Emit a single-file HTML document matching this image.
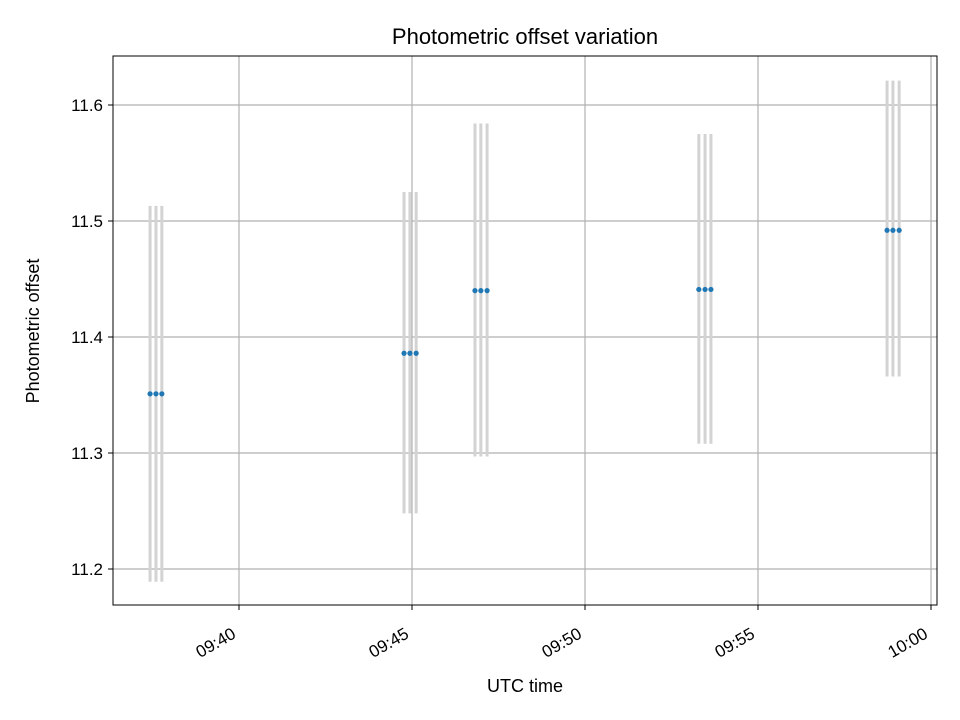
<!DOCTYPE html>
<html><head><meta charset="utf-8"><style>
body{margin:0;background:#fff;}
svg{display:block;font-family:"Liberation Sans","DejaVu Sans",sans-serif;}
</style></head><body>
<svg id="chart" width="960" height="720">
<rect width="960" height="720" fill="#fff"/>
<g id="grid"></g><g id="bars"></g><g id="pts"></g><g id="ticks"></g>
<rect x="113" y="56" width="824" height="549" fill="none" stroke="#000" stroke-width="1"/>
<text x="525" y="44" font-size="22" text-anchor="middle">Photometric offset variation</text>
<text x="525" y="692" font-size="18" text-anchor="middle">UTC time</text>
<text transform="translate(39,331) rotate(-90)" font-size="18" text-anchor="middle">Photometric offset</text>
</svg>
<script>
// minutes after 09:00
const times=[37.43,37.60,37.77,44.77,44.94,45.12,46.82,46.99,47.17,53.29,53.47,53.64,58.73,58.90,59.08];
const values=[11.351,11.351,11.351,11.386,11.386,11.386,11.440,11.440,11.440,11.441,11.441,11.441,11.492,11.492,11.492];
const upper=[11.513,11.513,11.513,11.525,11.525,11.525,11.584,11.584,11.584,11.575,11.575,11.575,11.621,11.621,11.621];
const lower=[11.189,11.189,11.189,11.248,11.248,11.248,11.297,11.297,11.297,11.308,11.308,11.308,11.366,11.366,11.366];
const yTicks=[11.2,11.3,11.4,11.5,11.6];
const xTicks=[40,45,50,55,60];
const xTickLabels=["09:40","09:45","09:50","09:55","10:00"];

const NS="http://www.w3.org/2000/svg";
function X(m){return 239+(m-40)*34.6;}
function Y(v){return 337-(v-11.4)*1160;}
function mk(tag,attrs,parent){const e=document.createElementNS(NS,tag);for(const k in attrs)e.setAttribute(k,attrs[k]);document.getElementById(parent).appendChild(e);return e;}

yTicks.forEach((t,i)=>{
  const y=Y(t);
  const g=mk('line',{x1:113,x2:937,y1:y,y2:y,stroke:'#b0b0b0','stroke-width':1.2},'grid');
  
  
  mk('line',{x1:108,x2:113,y1:y,y2:y,stroke:'#000'},'ticks');
  const l=mk('text',{x:103,y:y+6,'font-size':17,'text-anchor':'end'},'ticks');
  l.textContent=t.toFixed(1);
  
  
});
xTicks.forEach((t,i)=>{
  const x=X(t);
  const g=mk('line',{x1:x,x2:x,y1:56,y2:605,stroke:'#b0b0b0','stroke-width':1.2},'grid');
  
  
  mk('line',{x1:x,x2:x,y1:605,y2:610,stroke:'#000'},'ticks');
  const l=mk('text',{transform:`translate(${x-2},${637}) rotate(-30)`,'font-size':17,'text-anchor':'end'},'ticks');
  l.textContent=xTickLabels[i];
  
  
});
times.forEach((t,i)=>{
  const x=X(t);
  const b=mk('line',{x1:x,x2:x,y1:Y(upper[i]),y2:Y(lower[i]),stroke:'#d3d3d3','stroke-width':3},'bars');
  
  
  const p=mk('circle',{cx:x,cy:Y(values[i]),r:2.6,fill:'#1f77b4'},'pts');
  
  
});
</script>
</body></html>
